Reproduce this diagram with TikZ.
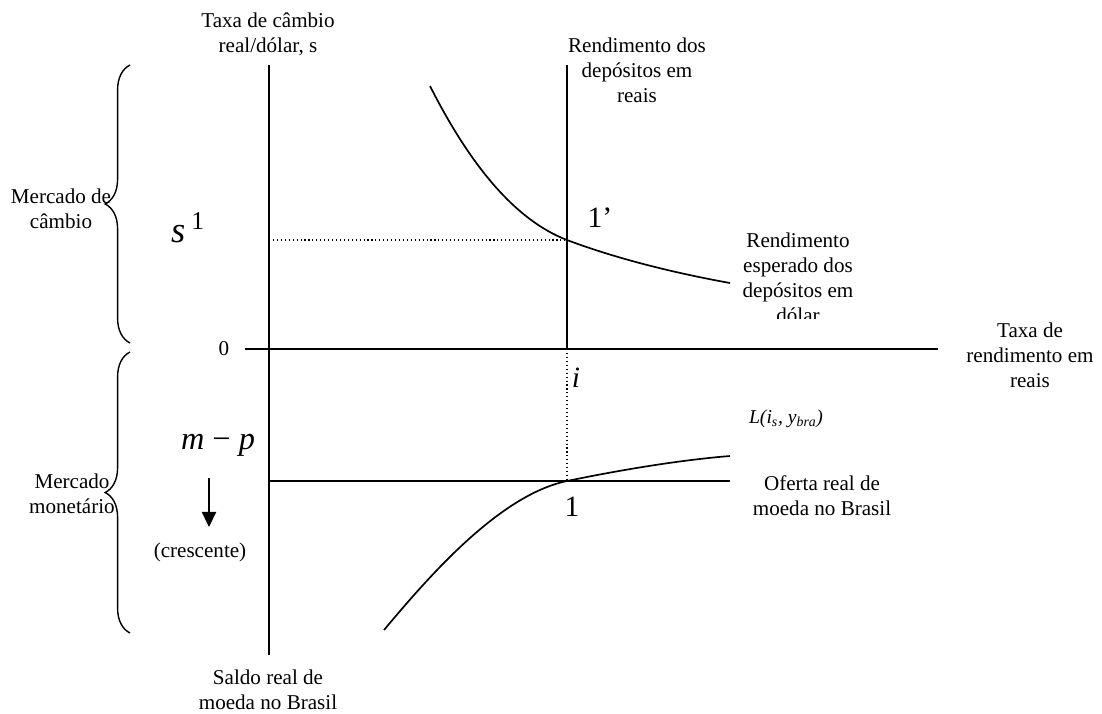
\documentclass[tikz,border=0pt]{standalone}
\usepackage{fontspec}
\setmainfont{Liberation Serif}
\usetikzlibrary{arrows.meta, positioning, decorations.pathreplacing}

\begin{document}
\begin{tikzpicture}[
    x=0.025cm, y=-0.025cm,
    axis/.style={line width=1.4pt},
    curve/.style={line width=1.2pt},
    guide/.style={line width=0.8pt, dotted},
    lbl/.style={font=\fontsize{15}{17.7}\selectfont, align=center, inner sep=0pt},
    big/.style={font=\fontsize{21}{24}\selectfont, inner sep=0pt},
    brc/.style={decorate, decoration={brace, amplitude=0.62cm}, line width=1pt},
    arr/.style={-{Triangle[length=3.8mm, width=3.6mm]}, line width=1pt}
]
\useasboundingbox (0,0) rectangle (1102,713);

% axes and levels
\coordinate (Stop) at (269,65);
\coordinate (Sbot) at (269,655);
\coordinate (Xl) at (245,349);
\coordinate (Xr) at (938,349);
\coordinate (Rtop) at (567,65);
\coordinate (E) at (567,349);
\coordinate (P1) at (567,240);
\coordinate (P2) at (567,481);
\coordinate (S1) at (269,240);
\coordinate (M) at (269,481);
\coordinate (Mr) at (730,481);

\draw[axis] (Stop) -- (Sbot);
\draw[axis] (Xl) -- (Xr);
\draw[axis] (Rtop) -- (E);
\draw[curve] (M) -- (Mr);
\draw[guide] (S1) -- (P1);
\draw[guide] (E) -- (P2);

% return on dollar deposits and money demand
\draw[curve] (430,86) .. controls (470,165) and (515,220) .. (P1)
                      .. controls (620,260) and (680,274) .. (730,283);
\draw[curve] (384,630) .. controls (430,575) and (500,495) .. (P2)
                       .. controls (620,470) and (680,460) .. (730,456);

% braces
\coordinate (b1a) at (130,343);
\coordinate (b1b) at (130,65);
\coordinate (b2a) at (130,633);
\coordinate (b2b) at (130,352);
\draw[brc] (b1a) -- (b1b);
\draw[brc] (b2a) -- (b2b);

% labels
\node[lbl] (ylab) at (268,34) {Taxa de câmbio\\real/dólar, s};
\node[lbl] (rlab) at (637,70) {Rendimento dos\\depósitos em\\reais};
\node[lbl] (xlab) at (1030,355) {Taxa de\\rendimento em\\reais};
\node[lbl] (blab) at (268,690) {Saldo real de\\moeda no Brasil};
\node[lbl] (olab) at (822,496) {Oferta real de\\moeda no Brasil};
\node[lbl] (zero) at (224,349) {0};
\node[lbl] (cres) at (200,552) {(crescente)};
\node[lbl] (mc) at (61,209) {Mercado de\\câmbio};
\node[lbl] (mm) at (72,494) {Mercado\\monetário};
\begin{scope}
  \clip (690,228) rectangle (900,318);
  \node[lbl] (dlab) at (798,278) {Rendimento\\esperado dos\\depósitos em\\dólar};
\end{scope}

\node[big, font=\fontsize{26}{28}\selectfont] (s1) at (188,228) {\textit{s}\,\textsuperscript{1}};
\node[big, font=\fontsize{23}{26}\selectfont] (mp) at (218,445) {\textit{m} − \textit{p}};
\node[big] (pt1b) at (600,218) {1’};
\node[big] (ilab) at (576,378) {\textit{i}};
\node[big] (pt1) at (572,507) {1};
\node[font=\fontsize{14}{16}\selectfont\itshape, inner sep=0pt] (Llab) at (786,419) {L(i\textsubscript{s}, y\textsubscript{bra})};

\coordinate (a1) at (209,478);
\coordinate (a2) at (209,527);
\draw[arr] (a1) -- (a2);
\end{tikzpicture}
\end{document}
